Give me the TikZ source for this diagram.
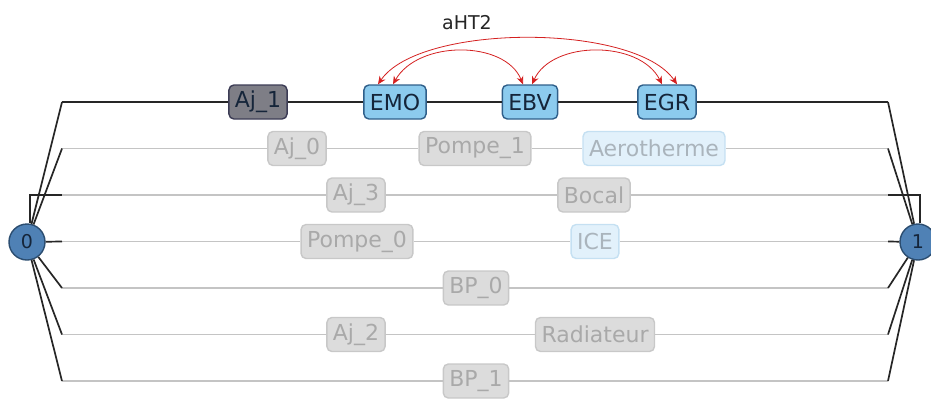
\documentclass[tikz,border=0pt]{standalone}
\usepackage{fontspec}
\setmainfont{DejaVu Sans}
\usetikzlibrary{arrows.meta}

\definecolor{actfill}{HTML}{8CCBEE}
\definecolor{actline}{HTML}{2F5F8A}
\definecolor{acttext}{HTML}{15253A}
\definecolor{selfill}{HTML}{7E7E86}
\definecolor{selline}{HTML}{3C3C55}
\definecolor{offfill}{HTML}{DCDCDC}
\definecolor{offline}{HTML}{C8C8C8}
\definecolor{offtext}{HTML}{A9A9A9}
\definecolor{fadefill}{HTML}{E2F1FB}
\definecolor{fadeline}{HTML}{C5E0F2}
\definecolor{fadetext}{HTML}{AAB4BC}
\definecolor{termfill}{HTML}{4F81B5}
\definecolor{termline}{HTML}{2B4D70}
\definecolor{arcred}{HTML}{D42020}
\definecolor{wire}{HTML}{C4C4C4}

\begin{document}
\begin{tikzpicture}[x=1pt,y=-1pt,
    box/.style={draw, rounded corners=5pt, line width=1.4pt, minimum height=34pt,
        inner xsep=6pt, font=\fontsize{22}{26}\selectfont},
    onbox/.style={box, fill=actfill, draw=actline, text=acttext},
    selbox/.style={box, fill=selfill, draw=selline, text=acttext},
    offbox/.style={box, fill=offfill, draw=offline, text=offtext},
    fadebox/.style={box, fill=fadefill, draw=fadeline, text=fadetext},
    term/.style={circle, draw=termline, fill=termfill, line width=1.4pt, minimum size=36pt,
        inner sep=0pt, text=acttext, font=\fontsize{19}{22}\selectfont},
    link/.style={draw=black!85, line width=1.7pt},
    idle/.style={draw=wire, line width=1.7pt},
    harc/.style={<->, >={Stealth[length=8pt,width=7pt]}, draw=arcred, line width=0.8pt}]
    \useasboundingbox (0,0) rectangle (931,399);

    % Terminals
    \node[term] (n0) at (27,242) {0};
    \node[term] (n1) at (918,242) {1};

    % Row ends
    \foreach \i/\y in {1/102,2/148.5,3/195,4/241.5,5/288,6/334.5,7/381} {
        \coordinate (l\i) at (62,\y);
        \coordinate (r\i) at (888,\y);
    }

    % Active row
    \node[selbox] (Aj1) at (258,102) {Aj\_1};
    \node[onbox] (EMO) at (395,102) {EMO};
    \node[onbox] (EBV) at (530,102) {EBV};
    \node[onbox] (EGR) at (667,102) {EGR};

    % Idle rows
    \node[offbox] (Aj0) at (297,148.5) {Aj\_0};
    \node[offbox] (Pompe1) at (475,148.5) {Pompe\_1};
    \node[fadebox] (Aero) at (654,148.5) {Aerotherme};
    \node[offbox] (Aj3) at (356,195) {Aj\_3};
    \node[offbox] (Bocal) at (594,195) {Bocal};
    \node[offbox] (Pompe0) at (357,241.5) {Pompe\_0};
    \node[fadebox] (ICE) at (595,241.5) {ICE};
    \node[offbox] (BP0) at (476,288) {BP\_0};
    \node[offbox] (Aj2) at (356,334.5) {Aj\_2};
    \node[offbox] (Rad) at (595,334.5) {Radiateur};
    \node[offbox] (BP1) at (476,381) {BP\_1};

    % Horizontal wires
    \draw[link] (l1) -- (Aj1) -- (EMO) -- (EBV) -- (EGR) -- (r1);
    \draw[idle] (l2) -- (Aj0) -- (Pompe1) -- (Aero) -- (r2);
    \draw[idle] (l3) -- (Aj3) -- (Bocal) -- (r3);
    \draw[idle] (l4) -- (Pompe0) -- (ICE) -- (r4);
    \draw[idle] (l5) -- (BP0) -- (r5);
    \draw[idle] (l6) -- (Aj2) -- (Rad) -- (r6);
    \draw[idle] (l7) -- (BP1) -- (r7);

    % Fan out to the terminals
    \foreach \i in {1,2,5,6,7} {
        \draw[link] (n0) -- (l\i);
        \draw[link] (r\i) -- (n1);
    }
    \draw[link] (n0) -- (l4);
    \draw[link] (r4) -- (n1);
    \draw[link] ([xshift=3pt]n0.north) |- (l3);
    \draw[link] (r3) -| ([xshift=2pt]n1.north);

    % Couplings
    \node[font=\fontsize{19}{22}\selectfont, text=black!85] (aHT) at (467,23) {aHT2};
    \draw[harc] ([xshift=-17pt]EMO.north) .. controls (420,23) and (635,23) .. ([xshift=10pt]EGR.north);
    \draw[harc] ([xshift=-2pt]EMO.north) .. controls (418,40) and (505,40) .. ([xshift=-7pt]EBV.north);
    \draw[harc] ([xshift=2pt]EBV.north) .. controls (552,40) and (640,40) .. ([xshift=-5pt]EGR.north);
\end{tikzpicture}
\end{document}
